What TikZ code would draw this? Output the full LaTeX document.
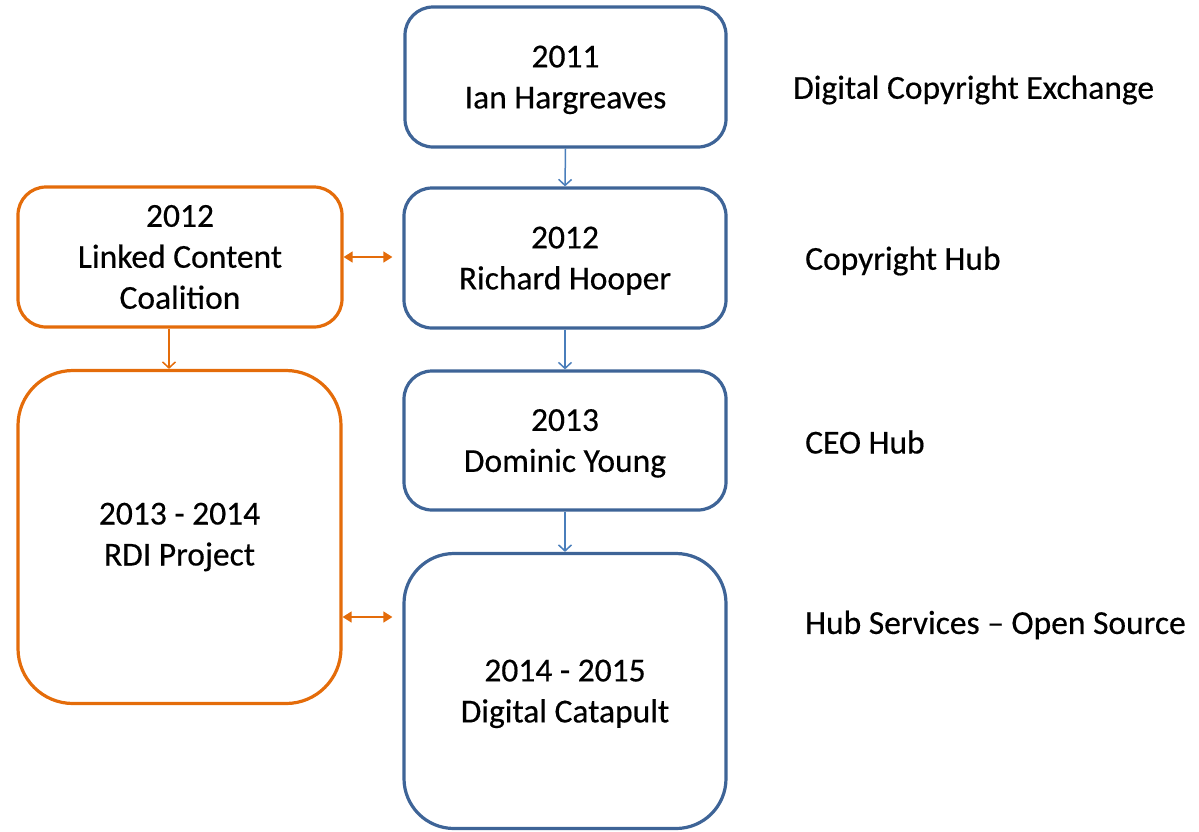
\documentclass[tikz,border=0pt]{standalone}
\usepackage{fontspec}
\setmainfont{Carlito}[FakeBold=0.4]
\usetikzlibrary{arrows.meta}
\definecolor{boxblue}{HTML}{3E6497}
\definecolor{arrblue}{HTML}{4A7EBB}
\definecolor{orng}{HTML}{E46C0A}
\begin{document}
\begin{tikzpicture}[x=1pt,y=-1pt,
  bx/.style={draw=boxblue,line width=3.2pt,rounded corners=28pt,align=center,
    font=\fontsize{33.5}{41}\selectfont,inner sep=0pt,text depth=0pt},
  ob/.style={draw=orng,line width=3.2pt,rounded corners=28pt,align=center,
    font=\fontsize{33.5}{41}\selectfont,inner sep=0pt},
  lbl/.style={anchor=west,font=\fontsize{33.5}{38}\selectfont,inner sep=0pt},
  barr/.style={draw=arrblue,line width=1.5pt,-{Straight Barb[length=6pt,width=13pt,line width=1.5pt]}},
  oarr/.style={draw=orng,line width=1.5pt,-{Straight Barb[length=6pt,width=13pt,line width=1.5pt]}},
  darr/.style={draw=orng,line width=1.5pt,{Triangle[length=9pt,width=11pt]}-{Triangle[length=9pt,width=11pt]}}]
\useasboundingbox (0,0) rectangle (1199,831);
\node[bx,minimum width=321pt,minimum height=140pt] (b1) at (565.5,77) {2011\\Ian Hargreaves};
\node[bx,minimum width=322pt,minimum height=140pt] (b2) at (565,258) {2012\\Richard Hooper};
\node[bx,minimum width=322pt,minimum height=139pt] (b3) at (565,440.5) {2013\\Dominic Young};
\node[bx,minimum width=322pt,minimum height=275pt,rounded corners=50pt] (b4) at (565,691) {2014 - 2015\\Digital Catapult};
\node[ob,minimum width=324pt,minimum height=140pt] (o1) at (180,257) {2012\\Linked Content\\Coalition};
\node[ob,minimum width=323pt,minimum height=333pt,rounded corners=55pt] (o2) at (179.5,537) {2013 - 2014\\RDI Project};
\node[lbl] (l1) at (793,90) {Digital Copyright Exchange};
\node[lbl] (l2) at (805,261) {Copyright Hub};
\node[lbl] (l3) at (805,442) {CEO Hub};
\node[lbl] (l4) at (805,625) {Hub Services – Open Source};
\draw[barr] (b1.south) -- (b2.north);
\draw[barr] (b2.south) -- (b3.north);
\draw[barr] (b3.south) -- (b4.north);
\draw[oarr] ([xshift=-11pt]o1.south) -- ([xshift=-10.5pt]o2.north);
\draw[darr,shorten >=10pt] (o1.east) -- (o1.east -| b2.west);
\draw[darr,shorten >=10pt] (o2.east |- 0,617) -- (b4.west |- 0,617);
\end{tikzpicture}
\end{document}
